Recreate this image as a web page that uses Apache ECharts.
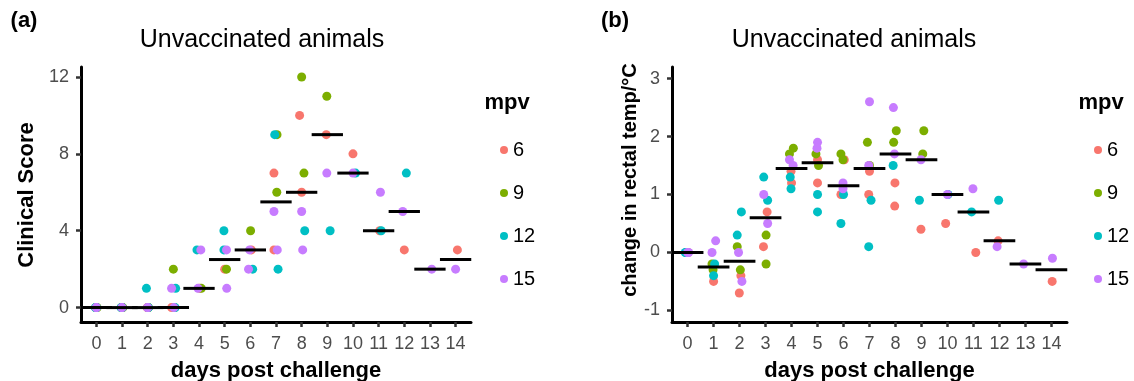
<!DOCTYPE html>
<html>
<head>
<meta charset="utf-8">
<script src="https://cdn.jsdelivr.net/npm/echarts@6.0.0/dist/echarts.min.js"></script>
<style>
  html, body { margin: 0; padding: 0; background: #fff; }
  #chart { width: 1134px; height: 381px; }
</style>
</head>
<body>
<div id="chart"></div>
<script>
const days = [0, 1, 2, 3, 4, 5, 6, 7, 8, 9, 10, 11, 12, 13, 14];
const dayLabels = ["0", "1", "2", "3", "4", "5", "6", "7", "8", "9", "10", "11", "12", "13", "14"];
const groups = ["6", "9", "12", "15"];
const groupColors = ["#F8766D", "#7CAE00", "#00BFC4", "#C77CFF"];
const scoreTicks = [0, 4, 8, 12];
const tempTicks = [-1, 0, 1, 2, 3];

// points as [day, value, horizontal jitter in days]
const scoreMpv6 = [[0,0,-0.02],[0,0,0.02],[1,0,-0.02],[1,0,0.02],[2,0,-0.02],[2,0,0.02],[3,0,-0.07],[4,1,0.02],[5,2,0],[6,3,0.04],[7,7,-0.08],[7,3,-0.08],[8,10,-0.08],[8,6,0],[9,9,-0.04],[10,8,0],[11,4,0.04],[12,3,0],[14,3,0.07]];
const scoreMpv9 = [[0,0,0.03],[0,0,-0.03],[1,0,0.03],[1,0,-0.03],[2,0,0.03],[2,0,0],[3,2,0],[3,0,0.05],[4,1,0.09],[5,2,0.07],[6,4,0.01],[7,9,0.04],[7,6,0.03],[8,12,0],[8,7,0.09],[9,11,-0.02]];
const scoreMpv12 = [[0,0,-0.04],[0,0,0.01],[1,0,-0.04],[1,0,0.01],[2,1,-0.05],[2,0,0.03],[3,1,0.09],[3,0,0.07],[4,3,-0.08],[5,4,-0.03],[5,3,-0.03],[6,2,0.09],[7,9,-0.05],[7,2,0.08],[8,4,0.12],[9,4,0.11],[10,7,0.1],[11,4,0.1],[12,7,0.08]];
const scoreMpv15 = [[0,0,0],[0,0,-0.01],[1,0,0],[1,0,-0.01],[2,0,0],[2,0,-0.01],[3,1,-0.07],[3,0,0.02],[4,3,0.07],[4,1,-0.04],[5,3,0.07],[5,1,0.08],[6,3,-0.03],[6,2,-0.07],[7,5,-0.08],[7,3,0.05],[8,5,0],[8,3,0.04],[9,7,-0.02],[10,7,0],[11,6,0.07],[12,5,-0.06],[13,2,0.07],[14,2,0]];
const scoreMedian = [0, 0, 0, 0, 1, 2.5, 3, 5.5, 6, 9, 7, 4, 5, 2, 2.5];

const tempMpv6 = [[0,0,0.02],[0,0,-0.02],[1,-0.5,0],[2,-0.4,0.05],[2,-0.7,-0.01],[3,0.7,0.06],[3,0.1,-0.08],[4,1.4,-0.02],[4,1.2,0],[5,1.6,0],[5,1.2,0],[6,1.6,0.03],[6,1.0,-0.1],[7,1.4,0],[7,1.0,-0.03],[8,1.2,-0.02],[8,0.8,-0.03],[9,0.4,-0.02],[10,0.5,-0.07],[11,0.0,0.09],[12,0.2,-0.05],[14,-0.5,0.03]];
const tempMpv9 = [[0,0,0],[0,0,-0.04],[1,-0.2,-0.06],[1,-0.3,-0.02],[2,0.1,-0.09],[2,-0.3,0.03],[3,0.3,0.02],[3,-0.2,0.02],[4,1.8,0.07],[4,1.7,-0.08],[5,1.7,-0.06],[5,1.5,0.04],[6,1.7,-0.1],[6,1.6,-0.02],[7,1.9,-0.08],[7,1.5,0],[8,2.1,0.03],[8,1.9,-0.07],[9,2.1,0.09],[9,1.7,0.05]];
const tempMpv12 = [[0,0,-0.09],[0,0,-0.05],[1,-0.2,0.04],[1,-0.4,0],[2,0.7,0.07],[2,0.3,-0.09],[3,1.3,-0.07],[3,0.9,0.08],[4,1.3,-0.05],[4,1.1,-0.02],[5,1.0,0],[5,0.7,0],[6,1.0,0],[6,0.5,-0.1],[7,0.9,0.06],[7,0.1,-0.03],[8,1.5,-0.09],[9,0.9,-0.08],[10,1.0,0.02],[11,0.7,-0.07],[12,0.9,-0.03]];
const tempMpv15 = [[0,0,0.04],[0,0,0],[1,0.2,0.08],[1,0,-0.06],[2,0,-0.04],[2,-0.5,0.09],[3,1.0,-0.07],[3,0.5,0.08],[4,1.6,-0.08],[4,1.5,0.06],[5,1.9,0],[5,1.8,-0.02],[6,1.2,-0.02],[6,1.1,-0.02],[7,2.6,0],[7,1.5,-0.03],[8,2.5,-0.08],[8,1.7,-0.04],[9,1.6,-0.02],[10,1.0,0],[11,1.1,-0.02],[12,0.1,-0.09],[13,-0.2,-0.07],[14,-0.1,0.04]];
const tempMedian = [0, -0.25, -0.15, 0.6, 1.45, 1.55, 1.15, 1.45, 1.7, 1.6, 1.0, 0.7, 0.2, -0.2, -0.3];

const FONT = '"Liberation Sans", Arial, sans-serif';
const chart = echarts.init(document.getElementById("chart"), null, { renderer: "canvas" });

function xAxisFor(gridIndex) {
  return {
    gridIndex: gridIndex,
    type: "value",
    min: -0.6,
    max: 14.6,
    name: "days post challenge",
    nameLocation: "middle",
    nameGap: 38,
    nameTextStyle: { fontSize: 22, fontWeight: "bold", color: "#000", fontFamily: FONT },
    axisLine: { onZero: false, lineStyle: { color: "#000", width: 3 } },
    axisTick: { customValues: days, length: 5, lineStyle: { color: "#333", width: 2.5 } },
    axisLabel: {
      customValues: days,
      formatter: (v) => dayLabels[days.indexOf(v)],
      fontSize: 18,
      color: "#4D4D4D",
      margin: 13,
      fontFamily: FONT,
    },
    splitLine: { show: false },
  };
}

function yAxisFor(gridIndex, min, max, ticks) {
  return {
    gridIndex: gridIndex,
    type: "value",
    min: min,
    max: max,
    axisLine: { show: true, onZero: false, lineStyle: { color: "#000", width: 3 } },
    axisTick: { show: true, customValues: ticks, length: 5, lineStyle: { color: "#333", width: 2.5 } },
    axisLabel: { customValues: ticks, fontSize: 18, color: "#4D4D4D", margin: 12, fontFamily: FONT },
    splitLine: { show: false },
  };
}

function pointSeries(name, color, rows, axisIndex) {
  return {
    name: name,
    type: "scatter",
    xAxisIndex: axisIndex,
    yAxisIndex: axisIndex,
    symbol: "circle",
    symbolSize: 9,
    itemStyle: { color: color, opacity: 1 },
    data: rows.map((r) => [r[0] + r[2], r[1]]),
  };
}

function medianSeries(values, axisIndex) {
  return {
    type: "custom",
    xAxisIndex: axisIndex,
    yAxisIndex: axisIndex,
    z: 5,
    silent: true,
    renderItem: function (params, api) {
      const d = api.value(0);
      const m = api.value(1);
      const a = api.coord([d - 0.61, m]);
      const b = api.coord([d + 0.61, m]);
      return {
        type: "line",
        shape: { x1: a[0], y1: a[1], x2: b[0], y2: b[1] },
        style: { stroke: "#000", lineWidth: 3 },
      };
    },
    data: days.map((d, i) => [d, values[i]]),
  };
}

function legendFor(left) {
  return {
    data: groups,
    orient: "vertical",
    left: left,
    top: 135,
    icon: "circle",
    itemWidth: 8,
    itemHeight: 8,
    itemGap: 23,
    textStyle: { fontSize: 20, color: "#000", fontFamily: FONT },
  };
}

function label(text, x, y, size, weight, extra) {
  return Object.assign({
    type: "text",
    x: x,
    y: y,
    style: {
      text: text,
      fontSize: size,
      fontWeight: weight,
      fontFamily: FONT,
      fill: "#000",
      align: "center",
      verticalAlign: "middle",
    },
  }, extra || {});
}

const scoreGroups = [scoreMpv6, scoreMpv9, scoreMpv12, scoreMpv15];
const tempGroups = [tempMpv6, tempMpv9, tempMpv12, tempMpv15];

chart.setOption({
  animation: false,
  backgroundColor: "#fff",
  textStyle: { fontFamily: FONT },
  grid: [
    { left: 81, top: 67, width: 390, height: 255, outerBoundsMode: "none", containLabel: false },
    { left: 672, top: 67, width: 395, height: 255, outerBoundsMode: "none", containLabel: false },
  ],
  xAxis: [xAxisFor(0), xAxisFor(1)],
  yAxis: [yAxisFor(0, -0.75, 12.52, scoreTicks), yAxisFor(1, -1.2, 3.2, tempTicks)],
  legend: [legendFor(495), legendFor(1089)],
  graphic: [
    label("(a)", 24, 21, 22, "bold"),
    label("(b)", 615, 21, 22, "bold"),
    label("Unvaccinated animals", 262, 40, 25, "normal"),
    label("Unvaccinated animals", 854, 40, 25, "normal"),
    label("mpv", 507, 103, 22, "bold"),
    label("mpv", 1101, 103, 22, "bold"),
    label("Clinical Score", 27, 195, 22, "bold", { rotation: Math.PI / 2 }),
    label("change in rectal temp/\u00B0C", 630, 180, 20, "bold", { rotation: Math.PI / 2 }),
  ],
  series: [
    ...scoreGroups.map((rows, i) => pointSeries(groups[i], groupColors[i], rows, 0)),
    medianSeries(scoreMedian, 0),
    ...tempGroups.map((rows, i) => pointSeries(groups[i], groupColors[i], rows, 1)),
    medianSeries(tempMedian, 1),
  ],
});
</script>
</body>
</html>
